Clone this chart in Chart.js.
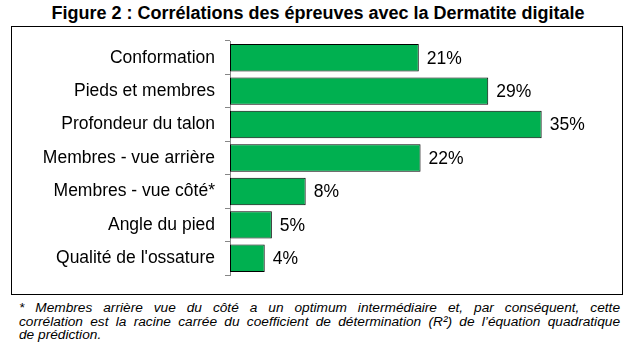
<!DOCTYPE html>
<html>
<head>
<meta charset="utf-8">
<script src="https://cdn.jsdelivr.net/npm/chart.js@4/dist/chart.umd.min.js"></script>
<style>
  html, body { margin: 0; padding: 0; background: #fff; }
  body { width: 633px; height: 349px; position: relative; overflow: hidden; font-family: "Liberation Sans", Arial, sans-serif; }
  #title { position: absolute; left: 0; top: 3px; width: 636px; text-align: center; font-weight: bold; font-size: 18px; line-height: 20px; color: #000; white-space: nowrap; }
  #box { position: absolute; left: 11px; top: 26px; width: 610px; height: 267px; border: 1px solid #000; }
  #wrap { position: absolute; left: 12px; top: 27px; width: 609px; height: 266px; }
  #note { position: absolute; left: 19px; top: 301px; width: 601px; font-style: italic; font-size: 13.7px; line-height: 13.5px; color: #000; }
  #note div { text-align: justify; text-align-last: justify; }
  #note div.last { text-align-last: left; }
</style>
</head>
<body>
<div id="title">Figure 2 : Corrélations des épreuves avec la Dermatite digitale</div>
<div id="box"></div>
<div id="wrap"><canvas id="c" width="609" height="266"></canvas></div>
<div id="note">
  <div>* Membres arrière vue du côté a un optimum intermédiaire et, par conséquent, cette</div>
  <div>corrélation est la racine carrée du coefficient de détermination (R²) de l’équation quadratique</div>
  <div class="last">de prédiction.</div>
</div>
<script>
const categories = ["Conformation", "Pieds et membres", "Profondeur du talon", "Membres - vue arrière", "Membres - vue côté*", "Angle du pied", "Qualité de l'ossature"];
const values = [21.2, 29.0, 35.0, 21.4, 8.5, 4.7, 3.9];
const valueLabels = ["21%", "29%", "35%", "22%", "8%", "5%", "4%"];

const FONT = '"Liberation Sans", Arial, sans-serif';

const labelPlugin = {
  id: 'barLabels',
  afterDatasetsDraw(chart) {
    const ctx = chart.ctx;
    const meta = chart.getDatasetMeta(0);
    ctx.save();
    ctx.font = '17.5px ' + FONT;
    ctx.fillStyle = '#000';
    ctx.textAlign = 'left';
    ctx.textBaseline = 'middle';
    meta.data.forEach((bar, i) => {
      ctx.fillText(valueLabels[i], bar.x + 8, bar.y + 1);
    });
    ctx.restore();
  }
};

new Chart(document.getElementById('c'), {
  type: 'bar',
  data: {
    labels: categories,
    datasets: [{
      data: values,
      backgroundColor: '#00B050',
      borderColor: '#000',
      borderWidth: 1,
      borderSkipped: false,
      categoryPercentage: 1,
      barPercentage: 0.82,
      clip: false
    }]
  },
  options: {
    indexAxis: 'y',
    responsive: false,
    animation: false,
    events: [],
    layout: { padding: { top: 14, bottom: 18, right: 34.8, left: 0 } },
    plugins: { legend: { display: false }, tooltip: { enabled: false }, title: { display: false } },
    scales: {
      x: { display: false, min: 0, max: 40 },
      y: {
        position: 'left',
        afterFit(scale) { scale.width = 218; scale.paddingTop = 0; scale.paddingBottom = 0; },
        border: { display: true, color: '#868686', width: 1 },
        grid: { offset: true, drawOnChartArea: false, drawTicks: true, tickLength: 5, color: '#868686' },
        ticks: { color: '#000', padding: 10, font: { family: FONT, size: 17.5 } }
      }
    }
  },
  plugins: [labelPlugin]
});
</script>
</body>
</html>
